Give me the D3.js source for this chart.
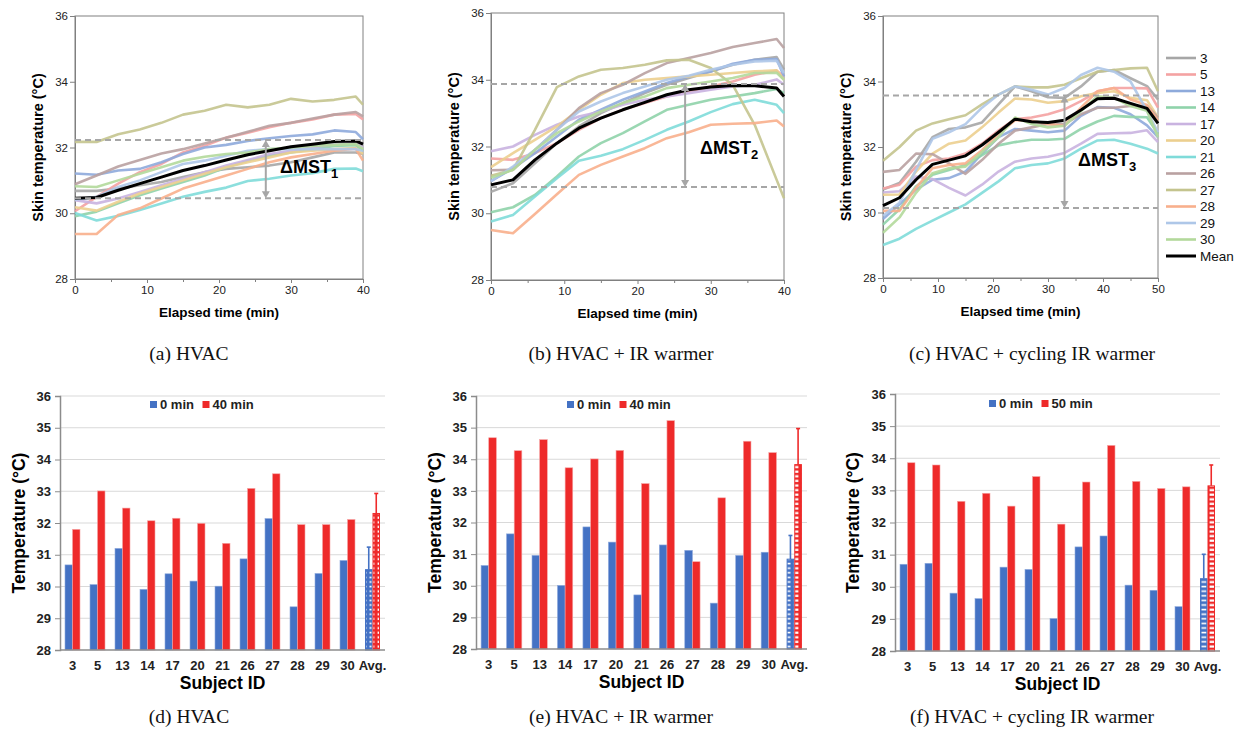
<!DOCTYPE html>
<html>
<head>
<meta charset="utf-8">
<script src="https://cdn.jsdelivr.net/npm/d3@7/dist/d3.min.js"></script>
<style>
  body { margin: 0; background: #fff; }
  svg text { font-family: Arial, "Liberation Sans", sans-serif; }
</style>
</head>
<body>
<div id="chart"></div>
<script>
const W = 1239, H = 739;

// subjects and their line colours
const subjects = ['3', '5', '13', '14', '17', '20', '21', '26', '27', '28', '29', '30'];
const subjectColors = ['#a6a6a6', '#f4a2a2', '#8eaadb', '#8fd3aa', '#c9b3e0', '#eccf8f',
                       '#7fdbd9', '#b9a1a1', '#c4c48e', '#f8af8c', '#aec7e8', '#b3d99b'];

// time axes
const timesAB = [0, 3, 6, 9, 12, 15, 18, 21, 24, 27, 30, 33, 36, 39, 40];
const timesC = [0, 3, 6, 9, 12, 15, 18, 21, 24, 27, 30, 33, 36, 39, 42, 45, 48, 50];

// (a) HVAC - one row per subject, same order as subjects
const skinA = [
  [30.68, 30.68, 30.75, 30.85, 30.95, 31.10, 31.25, 31.35, 31.40, 31.45, 31.55, 31.70, 31.85, 31.85, 31.80],
  [30.06, 30.50, 30.90, 31.25, 31.50, 31.85, 32.05, 32.30, 32.45, 32.62, 32.75, 32.85, 33.00, 33.02, 32.85],
  [31.21, 31.17, 31.30, 31.35, 31.55, 31.80, 32.00, 32.08, 32.20, 32.28, 32.35, 32.40, 32.52, 32.47, 32.25],
  [29.91, 30.05, 30.30, 30.55, 30.75, 30.95, 31.15, 31.40, 31.60, 31.75, 31.85, 31.95, 32.05, 32.07, 31.90],
  [30.40, 30.30, 30.45, 30.65, 30.85, 31.05, 31.25, 31.45, 31.62, 31.80, 31.90, 32.00, 32.10, 32.15, 32.00],
  [30.18, 30.08, 30.35, 30.60, 30.80, 31.00, 31.20, 31.40, 31.55, 31.70, 31.85, 31.90, 31.95, 31.98, 31.80],
  [30.01, 29.78, 29.92, 30.10, 30.30, 30.50, 30.65, 30.78, 30.98, 31.05, 31.15, 31.22, 31.35, 31.36, 31.28],
  [30.88, 31.15, 31.42, 31.62, 31.82, 31.95, 32.12, 32.30, 32.48, 32.66, 32.75, 32.88, 33.00, 33.08, 32.95],
  [32.17, 32.17, 32.40, 32.55, 32.75, 33.00, 33.12, 33.30, 33.22, 33.30, 33.48, 33.40, 33.45, 33.55, 33.30],
  [29.37, 29.37, 29.95, 30.15, 30.45, 30.75, 30.95, 31.15, 31.35, 31.55, 31.70, 31.80, 31.90, 31.96, 31.60],
  [30.41, 30.50, 30.80, 31.00, 31.25, 31.50, 31.60, 31.75, 31.90, 31.95, 31.95, 31.95, 31.95, 31.95, 31.90],
  [30.82, 30.80, 31.00, 31.20, 31.40, 31.60, 31.72, 31.80, 31.85, 31.95, 32.00, 32.05, 32.08, 32.11, 31.95]
];
const meanA = [30.46, 30.48, 30.70, 30.90, 31.10, 31.30, 31.45, 31.62, 31.78, 31.90, 32.02, 32.10, 32.18, 32.20, 32.10];

// (b) HVAC + IR warmer
const skinB = [
  [30.64, 30.90, 31.50, 32.10, 32.60, 33.00, 33.30, 33.60, 33.85, 34.05, 34.25, 34.45, 34.60, 34.68, 34.30],
  [31.64, 31.60, 31.80, 32.10, 32.50, 32.85, 33.10, 33.30, 33.50, 33.65, 33.80, 33.95, 34.15, 34.27, 34.10],
  [30.96, 31.35, 31.80, 32.30, 32.80, 33.10, 33.40, 33.65, 33.90, 34.10, 34.25, 34.48, 34.60, 34.62, 34.10],
  [30.03, 30.18, 30.55, 31.10, 31.70, 32.10, 32.40, 32.75, 33.10, 33.25, 33.40, 33.50, 33.60, 33.72, 33.60],
  [31.86, 32.00, 32.35, 32.65, 32.90, 33.05, 33.25, 33.40, 33.50, 33.60, 33.70, 33.80, 33.85, 34.01, 33.85],
  [31.38, 31.80, 32.20, 32.60, 33.10, 33.55, 33.90, 34.00, 34.05, 34.10, 34.15, 34.20, 34.25, 34.28, 34.00],
  [29.75, 29.95, 30.50, 31.05, 31.57, 31.72, 31.92, 32.20, 32.50, 32.75, 33.03, 33.27, 33.40, 33.25, 33.00],
  [31.29, 31.30, 31.90, 32.50, 33.15, 33.60, 33.85, 34.20, 34.50, 34.65, 34.80, 34.98, 35.10, 35.22, 34.95],
  [31.12, 31.30, 32.50, 33.78, 34.10, 34.30, 34.35, 34.45, 34.58, 34.60, 34.35, 33.85, 32.65, 31.00, 30.45],
  [29.50, 29.40, 29.98, 30.57, 31.15, 31.45, 31.70, 31.95, 32.25, 32.43, 32.65, 32.68, 32.70, 32.78, 32.60],
  [30.96, 31.40, 31.90, 32.50, 33.05, 33.35, 33.60, 33.80, 34.00, 34.12, 34.30, 34.45, 34.55, 34.57, 34.20],
  [31.06, 31.30, 31.90, 32.40, 32.75, 33.05, 33.30, 33.50, 33.75, 33.85, 33.95, 34.05, 34.20, 34.21, 34.00]
];
const meanB = [30.85, 31.00, 31.60, 32.10, 32.55, 32.85, 33.10, 33.32, 33.55, 33.70, 33.78, 33.83, 33.82, 33.75, 33.50];

// (c) HVAC + cycling IR warmer
const skinC = [
  [30.70, 30.90, 31.55, 32.30, 32.55, 32.60, 32.75, 33.30, 33.85, 33.70, 33.52, 33.50, 33.85, 34.30, 34.35, 34.10, 33.86, 33.45],
  [30.73, 30.85, 31.40, 31.60, 31.65, 31.80, 32.10, 32.50, 32.85, 32.90, 33.00, 33.15, 33.40, 33.70, 33.80, 33.80, 33.79, 33.20],
  [29.80, 30.25, 30.70, 31.00, 31.05, 31.25, 31.80, 32.30, 32.55, 32.50, 32.45, 32.50, 32.95, 33.22, 33.20, 33.00, 32.66, 32.30],
  [29.63, 30.10, 30.80, 31.15, 31.30, 31.45, 31.75, 32.05, 32.15, 32.22, 32.22, 32.25, 32.55, 32.78, 32.95, 32.92, 32.91, 32.40],
  [30.61, 30.65, 31.10, 31.02, 30.75, 30.52, 30.85, 31.25, 31.55, 31.65, 31.70, 31.82, 32.10, 32.40, 32.42, 32.43, 32.51, 32.15],
  [30.54, 30.55, 31.25, 31.80, 32.10, 32.20, 32.60, 33.05, 33.48, 33.45, 33.35, 33.40, 33.55, 33.65, 33.70, 33.50, 33.43, 32.90],
  [29.01, 29.20, 29.50, 29.75, 30.00, 30.25, 30.60, 30.95, 31.35, 31.45, 31.50, 31.65, 31.95, 32.20, 32.22, 32.10, 31.95, 31.80],
  [31.24, 31.30, 31.80, 31.78, 31.50, 31.18, 31.60, 32.10, 32.50, 32.60, 32.70, 32.70, 33.00, 33.20, 33.20, 33.25, 33.26, 32.90],
  [31.58, 32.00, 32.50, 32.72, 32.85, 32.97, 33.30, 33.60, 33.85, 33.82, 33.82, 33.90, 34.10, 34.30, 34.35, 34.40, 34.42, 33.70],
  [30.05, 30.05, 30.75, 31.35, 31.45, 31.50, 31.90, 32.40, 32.82, 32.80, 32.70, 32.65, 33.20, 33.70, 33.80, 33.45, 33.28, 32.80],
  [29.89, 30.30, 31.30, 32.25, 32.45, 32.70, 33.20, 33.60, 33.85, 33.75, 33.60, 33.80, 34.20, 34.42, 34.30, 34.00, 33.10, 32.45],
  [29.38, 29.85, 30.60, 31.20, 31.35, 31.40, 31.85, 32.30, 32.90, 32.70, 32.60, 32.65, 33.10, 33.55, 33.50, 33.25, 33.11, 32.30]
];
const meanC = [30.21, 30.45, 31.00, 31.47, 31.60, 31.73, 32.06, 32.45, 32.85, 32.77, 32.75, 32.82, 33.13, 33.47, 33.49, 33.33, 33.18, 32.72];

// dashed reference levels [upper, lower] and arrow time
const dashA = [32.23, 30.46], dashB = [33.87, 30.79], dashC = [33.57, 30.14];
const arrowTimes = [26.5, 26.5, 33];

// bar charts: start / end temperatures per subject
const categories = subjects.concat(['Avg.']);
const startD = [30.68, 30.06, 31.20, 29.91, 30.40, 30.17, 30.01, 30.87, 32.14, 29.36, 30.41, 30.82];
const endD   = [31.80, 33.01, 32.47, 32.07, 32.15, 31.99, 31.36, 33.09, 33.55, 31.95, 31.95, 32.11];
const avgD = [30.53, 32.30], errTopD = [31.24, 32.93];
const startE = [30.64, 31.64, 30.96, 30.01, 31.86, 31.38, 29.71, 31.29, 31.12, 29.45, 30.96, 31.06];
const endE   = [34.68, 34.27, 34.62, 33.73, 34.01, 34.28, 33.23, 35.22, 30.76, 32.78, 34.57, 34.21];
const avgE = [30.84, 33.83], errTopE = [31.59, 34.97];
const startF = [30.70, 30.73, 29.80, 29.63, 30.61, 30.54, 29.01, 31.24, 31.58, 30.05, 29.89, 29.38];
const endF   = [33.86, 33.79, 32.66, 32.91, 32.51, 33.43, 31.95, 33.26, 34.40, 33.28, 33.06, 33.11];
const avgF = [30.25, 33.14], errTopF = [31.01, 33.79];

const captions = ['(a) HVAC', '(b) HVAC + IR warmer', '(c) HVAC + cycling IR warmer',
                  '(d) HVAC', '(e) HVAC + IR warmer', '(f) HVAC + cycling IR warmer'];

const svg = d3.select('#chart').append('svg')
  .attr('width', W).attr('height', H);

// patterns for the average bars
const defs = svg.append('defs');
const pb = defs.append('pattern').attr('id', 'patBlue')
  .attr('patternUnits', 'userSpaceOnUse').attr('width', 8).attr('height', 4.6);
pb.append('rect').attr('width', 8).attr('height', 4.6).attr('fill', '#4472c4');
pb.append('rect').attr('x', 1.5).attr('y', 1.6).attr('width', 5).attr('height', 1.6).attr('fill', '#fff');
const pr = defs.append('pattern').attr('id', 'patRed')
  .attr('patternUnits', 'userSpaceOnUse').attr('width', 8).attr('height', 4.6);
pr.append('rect').attr('width', 8).attr('height', 4.6).attr('fill', '#ee2a2a');
pr.append('rect').attr('x', 1.6).attr('y', 1.4).attr('width', 4.8).attr('height', 2.2).attr('fill', '#fff');

const gray = '#a6a6a6';
const axisGray = '#808080';

function drawLineChart(cfg) {
  const g = svg.append('g');
  const x = d3.scaleLinear().domain([0, cfg.xMax]).range([cfg.x0, cfg.x1]);
  const y = d3.scaleLinear().domain([28, 36]).range([cfg.y1, cfg.y0]);

  // frame
  g.append('rect').attr('x', cfg.x0).attr('y', cfg.y0)
    .attr('width', cfg.x1 - cfg.x0).attr('height', cfg.y1 - cfg.y0)
    .attr('fill', 'none').attr('stroke', axisGray).attr('stroke-width', 1);

  g.append('g').attr('transform', `translate(0,${cfg.y1})`)
    .call(d3.axisBottom(x).tickValues(d3.range(0, cfg.xMax + 1, 10)).tickSize(4).tickPadding(3));
  g.append('g').attr('transform', `translate(0,${cfg.y1})`)
    .call(d3.axisBottom(x).tickValues(d3.range(5, cfg.xMax, 10)).tickSize(3).tickFormat(''));
  g.append('g').attr('transform', `translate(${cfg.x0},0)`)
    .call(d3.axisLeft(y).tickValues([28, 30, 32, 34, 36]).tickSize(5).tickPadding(2));
  g.selectAll('.domain').attr('stroke', axisGray);
  g.selectAll('.tick line').attr('stroke', axisGray);
  g.selectAll('.tick text').attr('font-size', 11.5).attr('fill', '#222')
    .style('font-family', 'Arial, "Liberation Sans", sans-serif');

  const line = d3.line().x((d, i) => x(cfg.times[i])).y(d => y(d));
  cfg.series.forEach((s, k) => {
    g.append('path').datum(s).attr('d', line)
      .attr('fill', 'none').attr('stroke', subjectColors[k])
      .attr('stroke-width', 2.6).attr('stroke-linejoin', 'round').attr('opacity', 0.9);
  });
  g.append('path').datum(cfg.mean).attr('d', line)
    .attr('fill', 'none').attr('stroke', '#000').attr('stroke-width', 3).attr('stroke-linejoin', 'round');

  // dashed reference lines
  cfg.dash.forEach(v => {
    g.append('line').attr('x1', cfg.x0).attr('x2', cfg.x1).attr('y1', y(v)).attr('y2', y(v))
      .attr('stroke', gray).attr('stroke-width', 2).attr('stroke-dasharray', '6,4');
  });

  // double arrow
  const ax = x(cfg.arrowAt), yt = y(cfg.dash[0]), yb = y(cfg.dash[1]);
  g.append('line').attr('x1', ax).attr('x2', ax).attr('y1', yt + 5).attr('y2', yb - 5)
    .attr('stroke', gray).attr('stroke-width', 2);
  g.append('path').attr('d', `M${ax - 4},${yt + 7}L${ax},${yt}L${ax + 4},${yt + 7}Z`).attr('fill', gray);
  g.append('path').attr('d', `M${ax - 4},${yb - 7}L${ax},${yb}L${ax + 4},${yb - 7}Z`).attr('fill', gray);

  const lbl = g.append('text').attr('x', cfg.labelX).attr('y', cfg.labelY)
    .attr('font-size', 18).attr('font-weight', 'bold').attr('fill', '#000');
  lbl.append('tspan').text('ΔMST');
  lbl.append('tspan').attr('font-size', 13).attr('dy', 5).text(cfg.sub);

  g.append('text').attr('x', (cfg.x0 + cfg.x1) / 2).attr('y', cfg.y1 + 38)
    .attr('text-anchor', 'middle').attr('font-size', 13.5).attr('font-weight', 'bold')
    .text('Elapsed time (min)');
  g.append('text')
    .attr('transform', `translate(${cfg.x0 - 37},${(cfg.y0 + cfg.y1) / 2}) rotate(-90)`)
    .attr('text-anchor', 'middle').attr('dy', '0.35em')
    .attr('font-size', 14.5).attr('font-weight', 'bold')
    .text('Skin temperature (°C)');
}

drawLineChart({x0: 75, x1: 363, y0: 16, y1: 279, xMax: 40, times: timesAB, series: skinA, mean: meanA,
  dash: dashA, arrowAt: arrowTimes[0], labelX: 280, labelY: 173, sub: '1'});
drawLineChart({x0: 491, x1: 784, y0: 13, y1: 280, xMax: 40, times: timesAB, series: skinB, mean: meanB,
  dash: dashB, arrowAt: arrowTimes[1], labelX: 700, labelY: 154, sub: '2'});
drawLineChart({x0: 883, x1: 1158, y0: 16, y1: 278, xMax: 50, times: timesC, series: skinC, mean: meanC,
  dash: dashC, arrowAt: arrowTimes[2], labelX: 1078, labelY: 166, sub: '3'});

// legend for the line charts
const leg = svg.append('g');
const legItems = subjects.concat(['Mean']);
legItems.forEach((name, i) => {
  const yy = 58 + i * 16.5;
  const isMean = name === 'Mean';
  leg.append('line').attr('x1', 1166).attr('x2', 1196).attr('y1', yy).attr('y2', yy)
    .attr('stroke', isMean ? '#000' : subjectColors[i]).attr('stroke-width', isMean ? 3 : 2.6);
  leg.append('text').attr('x', 1200).attr('y', yy).attr('dy', '0.36em')
    .attr('font-size', 13.5).attr('fill', '#111').text(name);
});

function drawBarChart(cfg) {
  const g = svg.append('g');
  const x = d3.scaleBand().domain(categories).range([cfg.x0, cfg.x1]);
  const y = d3.scaleLinear().domain([28, 36]).range([cfg.y1, cfg.y0]);
  const bw = x.bandwidth() * 0.3;

  g.selectAll('.grid').data(d3.range(29, 37)).enter().append('line')
    .attr('x1', cfg.x0).attr('x2', cfg.x1).attr('y1', d => y(d)).attr('y2', d => y(d))
    .attr('stroke', '#d9d9d9').attr('stroke-width', 1);

  const cx = c => x(c) + x.bandwidth() / 2;
  g.selectAll('.b0').data(cfg.start).enter().append('rect')
    .attr('x', (d, i) => cx(categories[i]) - bw).attr('y', d => y(d))
    .attr('width', bw).attr('height', d => y(28) - y(d))
    .attr('fill', '#4472c4').attr('stroke', '#8faadc').attr('stroke-width', 0.6);
  g.selectAll('.b1').data(cfg.end).enter().append('rect')
    .attr('x', (d, i) => cx(categories[i])).attr('y', d => y(d))
    .attr('width', bw).attr('height', d => y(28) - y(d))
    .attr('fill', '#ee2a2a').attr('stroke', '#f6a5a5').attr('stroke-width', 0.6);

  // average bars with error bars
  const ac = cx('Avg.');
  const colors = ['#4472c4', '#ee2a2a'];
  cfg.avg.forEach((v, k) => {
    const bx = k === 0 ? ac - bw : ac;
    g.append('line').attr('x1', bx + bw / 2).attr('x2', bx + bw / 2)
      .attr('y1', y(v)).attr('y2', y(cfg.errTop[k]))
      .attr('stroke', colors[k]).attr('stroke-width', 1.6);
    g.append('line').attr('x1', bx + bw / 2 - 2).attr('x2', bx + bw / 2 + 2)
      .attr('y1', y(cfg.errTop[k])).attr('y2', y(cfg.errTop[k]))
      .attr('stroke', colors[k]).attr('stroke-width', 1.6);
    g.append('rect').attr('x', bx + 0.5).attr('y', y(v)).attr('width', bw - 1).attr('height', y(28) - y(v))
      .attr('fill', k === 0 ? 'url(#patBlue)' : 'url(#patRed)')
      .attr('stroke', colors[k]).attr('stroke-width', 1);
  });

  // axes
  g.append('line').attr('x1', cfg.x0).attr('x2', cfg.x1).attr('y1', y(28)).attr('y2', y(28))
    .attr('stroke', '#8c8c8c').attr('stroke-width', 1.5);
  const yAxis = g.append('g').attr('transform', `translate(${cfg.x0},0)`)
    .call(d3.axisLeft(y).ticks(8).tickFormat(d3.format('d')).tickSize(5).tickPadding(4));
  yAxis.select('.domain').attr('stroke', '#8c8c8c').attr('stroke-width', 1.5);
  yAxis.selectAll('.tick line').attr('stroke', '#8c8c8c');
  yAxis.selectAll('.tick text').attr('font-size', 13).attr('font-weight', 'bold').attr('fill', '#222')
    .style('font-family', 'Arial, "Liberation Sans", sans-serif');

  g.selectAll('.xl').data(categories).enter().append('text')
    .attr('x', d => cx(d)).attr('y', cfg.y1 + 20).attr('text-anchor', 'middle')
    .attr('font-size', 13).attr('font-weight', 'bold').attr('fill', '#222').text(d => d);

  g.append('text').attr('x', (cfg.x0 + cfg.x1) / 2).attr('y', cfg.y1 + 39)
    .attr('text-anchor', 'middle').attr('font-size', 17.5).attr('font-weight', 'bold')
    .text('Subject ID');
  g.append('text')
    .attr('transform', `translate(${cfg.titleX},${(cfg.y0 + cfg.y1) / 2}) rotate(-90)`)
    .attr('text-anchor', 'middle').attr('dy', '0.35em')
    .attr('font-size', 17.5).attr('font-weight', 'bold').text('Temperature (°C)');

  // legend
  cfg.legend.forEach((name, k) => {
    const lx = cfg.legX + k * 52.5;
    g.append('rect').attr('x', lx).attr('y', cfg.legY - 3.5).attr('width', 7).attr('height', 7)
      .attr('fill', colors[k]);
    g.append('text').attr('x', lx + 10).attr('y', cfg.legY).attr('dy', '0.36em')
      .attr('font-size', 13).attr('font-weight', 'bold').attr('fill', '#222').text(name);
  });
}

drawBarChart({x0: 60, x1: 385, y0: 396, y1: 650, start: startD, end: endD, avg: avgD, errTop: errTopD,
  legend: ['0 min', '40 min'], legX: 150, legY: 404.5, titleX: 19});
drawBarChart({x0: 476, x1: 807, y0: 396, y1: 649, start: startE, end: endE, avg: avgE, errTop: errTopE,
  legend: ['0 min', '40 min'], legX: 567, legY: 404.5, titleX: 435});
drawBarChart({x0: 895, x1: 1220, y0: 394, y1: 651, start: startF, end: endF, avg: avgF, errTop: errTopF,
  legend: ['0 min', '50 min'], legX: 989, legY: 403.5, titleX: 853});

// captions
const capX = [189, 621, 1032];
captions.forEach((c, i) => {
  svg.append('text').attr('x', capX[i % 3]).attr('y', i < 3 ? 360 : 723)
    .attr('text-anchor', 'middle').attr('font-size', 19.5)
    .style('font-family', '"Liberation Serif", "Times New Roman", serif')
    .attr('fill', '#111').text(c);
});
</script>
</body>
</html>
